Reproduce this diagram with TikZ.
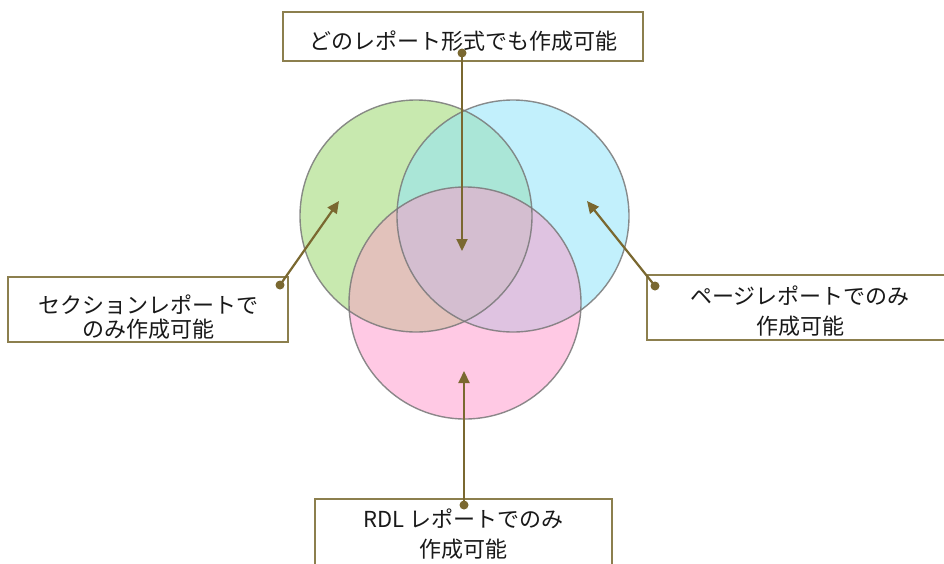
\documentclass[tikz,border=0pt]{standalone}
\usepackage{fontspec}
\setmainfont{Noto Sans CJK JP}
\usetikzlibrary{arrows.meta}
\definecolor{gfill}{RGB}{200,233,175}
\definecolor{bfill}{RGB}{194,240,252}
\definecolor{pfill}{RGB}{255,201,228}
\definecolor{gbfill}{RGB}{170,230,215}
\definecolor{gpfill}{RGB}{226,194,187}
\definecolor{bpfill}{RGB}{223,195,225}
\definecolor{allfill}{RGB}{212,190,208}
\definecolor{arrowcol}{RGB}{122,104,48}
\definecolor{boxcol}{RGB}{140,127,78}
\definecolor{ringcol}{RGB}{120,120,120}
\tikzset{
  labelbox/.style={draw=boxcol, line width=1.8pt, fill=white, inner sep=0pt},
  labeltext/.style={font=\fontsize{22}{24}\selectfont, align=center, inner sep=0pt, text=black!90},
  ring/.style={draw=ringcol, draw opacity=0.85, line width=1.4pt},
  callout/.style={draw=arrowcol, line width=2.2pt, -{Triangle[length=12pt,width=11pt]}},
  calloutdot/.style={fill=arrowcol},
}
\begin{document}
\begin{tikzpicture}[x=1pt,y=-1pt]
\useasboundingbox (0,0) rectangle (944,563);
\clip (0,0) rectangle (944,563);
% circle centres
\coordinate (G) at (416,216);
\coordinate (B) at (513,216);
\coordinate (P) at (465,303);
\def\rr{116}
% fills
\fill[gfill] (G) circle (\rr);
\fill[bfill] (B) circle (\rr);
\fill[pfill] (P) circle (\rr);
\begin{scope}\clip (G) circle (\rr); \fill[gbfill] (B) circle (\rr); \end{scope}
\begin{scope}\clip (G) circle (\rr); \fill[gpfill] (P) circle (\rr); \end{scope}
\begin{scope}\clip (B) circle (\rr); \fill[bpfill] (P) circle (\rr); \end{scope}
\begin{scope}\clip (G) circle (\rr); \clip (B) circle (\rr); \fill[allfill] (P) circle (\rr); \end{scope}
% outlines
\draw[ring] (G) circle (\rr);
\draw[ring] (B) circle (\rr);
\draw[ring] (P) circle (\rr);
% boxes
\node[labelbox, minimum width=360pt, minimum height=49pt] (tbox) at (463,36.5) {};
\node[labeltext] (ttext) at (463,41) {どのレポート形式でも作成可能};
\node[labelbox, minimum width=280pt, minimum height=65pt] (lbox) at (148,309.5) {};
\node[labeltext] (ltext) at (148,317) {セクションレポートで\\のみ作成可能};
\node[labelbox, minimum width=306pt, minimum height=65pt] (rbox) at (800,307.5) {};
\node[labeltext] (rtext) at (800,311) {ページレポートでのみ\\[6pt]作成可能};
\node[labelbox, minimum width=297pt, minimum height=100pt] (bbox) at (463.5,549) {};
\node[labeltext] (btext) at (463.5,534) {RDL レポートでのみ\\[6pt]作成可能};
% callout anchors
\coordinate (tdot) at (462,53);
\coordinate (ttip) at (462,251);
\coordinate (ldot) at (280,285);
\coordinate (ltip) at (339,201);
\coordinate (rdot) at (655,286);
\coordinate (rtip) at (587,201);
\coordinate (bdot) at (464,505);
\coordinate (btip) at (464,371);
% callouts
\draw[callout] (tdot) -- (ttip);
\draw[callout] (ldot) -- (ltip);
\draw[callout] (rdot) -- (rtip);
\draw[callout] (bdot) -- (btip);
\fill[calloutdot] (tdot) circle (4.5);
\fill[calloutdot] (ldot) circle (4.5);
\fill[calloutdot] (rdot) circle (4.5);
\fill[calloutdot] (bdot) circle (4.5);
\end{tikzpicture}
\end{document}
